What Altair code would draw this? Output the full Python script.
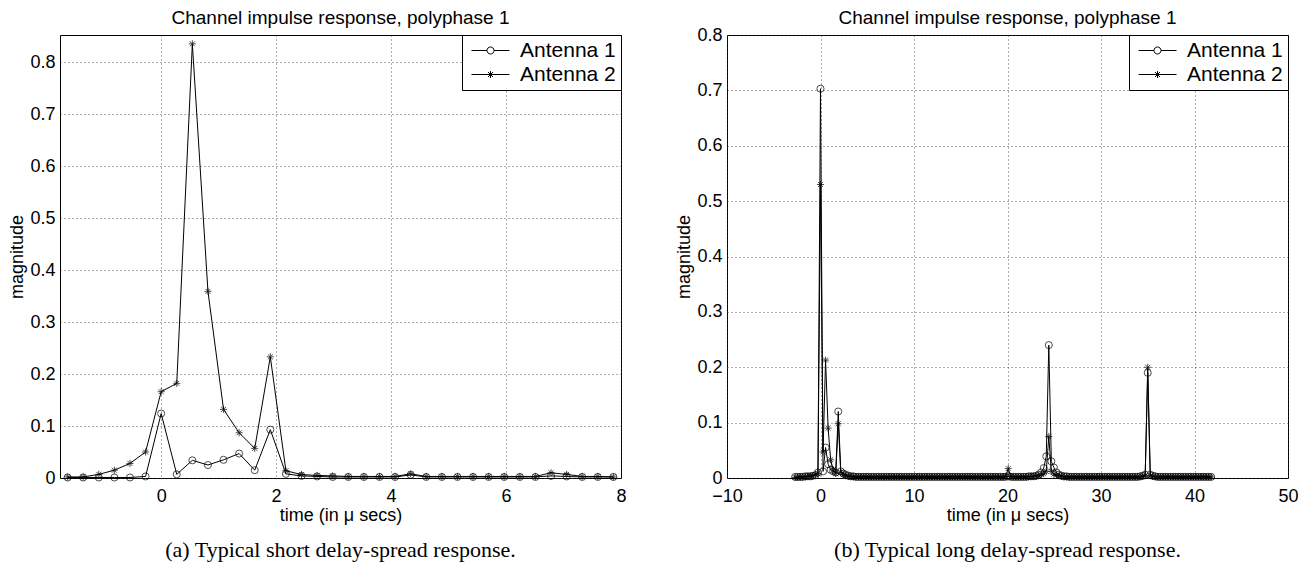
import altair as alt
import pandas as pd

SAMPLE_PERIOD_US = 0.2713
SERIES = ["Antenna 1", "Antenna 2"]

# ---- (a) short delay-spread: sample indices and magnitudes ----
left_idx = list(range(-6, 30))
left_ant1 = [0.001, 0.001, 0.001, 0.001, 0.001, 0.003,
             0.124, 0.007, 0.034, 0.025, 0.035, 0.047, 0.015, 0.093, 0.008,
             0.004, 0.003, 0.002, 0.002, 0.002, 0.002, 0.002, 0.006, 0.002, 0.002,
             0.002, 0.002, 0.002, 0.002, 0.002, 0.002, 0.004, 0.003, 0.002, 0.002, 0.002]
left_ant2 = [0.002, 0.002, 0.007, 0.015, 0.028, 0.050,
             0.166, 0.182, 0.835, 0.359, 0.132, 0.087, 0.057, 0.233, 0.014,
             0.0065, 0.005, 0.004, 0.003, 0.003, 0.003, 0.003, 0.008, 0.003, 0.003,
             0.003, 0.003, 0.003, 0.003, 0.003, 0.003, 0.010, 0.007, 0.003, 0.003, 0.002]

# ---- (b) long delay-spread ----
right_idx = list(range(-10, 155))
right_ant1 = [
    0.002, 0.002, 0.002, 0.002, 0.003, 0.003, 0.003, 0.004, 0.005, 0.010,
    0.703, 0.012, 0.055, 0.025, 0.015, 0.012, 0.010, 0.120, 0.012, 0.008,
    0.006, 0.004, 0.003, 0.003, 0.002, 0.002, 0.002, 0.002, 0.002, 0.002,
    0.002, 0.002, 0.002, 0.002, 0.002, 0.002, 0.002, 0.002, 0.002, 0.002,
    0.002, 0.002, 0.002, 0.002, 0.002, 0.002, 0.002, 0.002, 0.002, 0.002,
    0.002, 0.002, 0.002, 0.002, 0.002, 0.002, 0.002, 0.002, 0.002, 0.002,
    0.002, 0.002, 0.002, 0.002, 0.002, 0.002, 0.002, 0.002, 0.002, 0.002,
    0.002, 0.002, 0.002, 0.002, 0.002, 0.002, 0.002, 0.002, 0.002, 0.002,
    0.002, 0.002, 0.002, 0.002, 0.003, 0.002, 0.002, 0.002, 0.002, 0.002,
    0.002, 0.002, 0.003, 0.003, 0.003, 0.004, 0.006, 0.010, 0.018, 0.039,
    0.240, 0.030, 0.019, 0.010, 0.006, 0.004, 0.003, 0.003, 0.002, 0.002,
    0.002, 0.002, 0.002, 0.002, 0.002, 0.002, 0.002, 0.002, 0.002, 0.002,
    0.002, 0.002, 0.002, 0.002, 0.002, 0.002, 0.002, 0.002, 0.002, 0.002,
    0.002, 0.002, 0.002, 0.002, 0.002, 0.002, 0.003, 0.004, 0.006, 0.190,
    0.006, 0.004, 0.003, 0.002, 0.002, 0.002, 0.002, 0.002, 0.002, 0.002,
    0.002, 0.002, 0.002, 0.002, 0.002, 0.002, 0.002, 0.002, 0.002, 0.002,
    0.002, 0.002, 0.002, 0.002, 0.002,
]
right_ant2 = [
    0.001, 0.001, 0.002, 0.002, 0.002, 0.003, 0.003, 0.004, 0.006, 0.008,
    0.530, 0.047, 0.213, 0.090, 0.033, 0.015, 0.008, 0.098, 0.010, 0.006,
    0.004, 0.003, 0.003, 0.002, 0.002, 0.002, 0.002, 0.002, 0.002, 0.002,
    0.002, 0.002, 0.002, 0.002, 0.002, 0.002, 0.002, 0.002, 0.002, 0.002,
    0.002, 0.002, 0.002, 0.002, 0.002, 0.002, 0.002, 0.002, 0.002, 0.002,
    0.002, 0.002, 0.002, 0.002, 0.002, 0.002, 0.002, 0.002, 0.002, 0.002,
    0.002, 0.002, 0.002, 0.002, 0.002, 0.002, 0.002, 0.002, 0.002, 0.002,
    0.002, 0.002, 0.002, 0.002, 0.002, 0.002, 0.002, 0.002, 0.002, 0.002,
    0.002, 0.002, 0.002, 0.003, 0.017, 0.003, 0.002, 0.002, 0.002, 0.002,
    0.002, 0.002, 0.002, 0.003, 0.003, 0.003, 0.004, 0.006, 0.008, 0.012,
    0.075, 0.012, 0.007, 0.005, 0.004, 0.003, 0.002, 0.002, 0.002, 0.002,
    0.002, 0.002, 0.002, 0.002, 0.002, 0.002, 0.002, 0.002, 0.002, 0.002,
    0.002, 0.002, 0.002, 0.002, 0.002, 0.002, 0.002, 0.002, 0.002, 0.002,
    0.002, 0.002, 0.002, 0.002, 0.002, 0.002, 0.002, 0.003, 0.004, 0.200,
    0.004, 0.003, 0.002, 0.002, 0.002, 0.002, 0.002, 0.002, 0.002, 0.002,
    0.002, 0.002, 0.002, 0.002, 0.002, 0.002, 0.002, 0.002, 0.002, 0.002,
    0.002, 0.002, 0.002, 0.002, 0.002,
]

TITLE = "Channel impulse response, polyphase 1"
X_TITLE = "time (in μ secs)"
Y_TITLE = "magnitude"
CAPTION_A = "(a) Typical short delay-spread response."
CAPTION_B = "(b) Typical long delay-spread response."

PW, PH = 561, 443

STAR = "M-1,0L1,0M0,-1L0,1M-0.7,-0.7L0.7,0.7M-0.7,0.7L0.7,-0.7"
CIRCLE_LINE = ("M-2,0L-0.37,0M0.37,0L2,0M-0.37,0A0.37,0.37,0,1,1,0.37,0"
               "A0.37,0.37,0,1,1,-0.37,0Z")
STAR_LINE = ("M-2,0L2,0M0,-0.37L0,0.37M-0.26,-0.26L0.26,0.26"
             "M-0.26,0.26L0.26,-0.26")


def panel(idx, a1, a2, x_domain, x_ticks, y_domain, y_ticks, caption, title_offset):
    t = [round(k * SAMPLE_PERIOD_US, 4) for k in idx]
    df = pd.DataFrame({
        "t": t + t,
        "mag": a1 + a2,
        "series": [SERIES[0]] * len(t) + [SERIES[1]] * len(t),
    })
    x = alt.X("t:Q", scale=alt.Scale(domain=x_domain, nice=False, zero=False),
              axis=alt.Axis(values=x_ticks, format="d", title=X_TITLE,
                            labelFlush=False))
    y = alt.Y("mag:Q", scale=alt.Scale(domain=y_domain, nice=False, zero=False),
              axis=alt.Axis(values=y_ticks, format=".1~f", title=Y_TITLE))
    base = alt.Chart(df)
    lines = base.mark_line(color="black", strokeWidth=1).encode(
        x=x, y=y, detail="series:N")
    pts = base.mark_point(filled=False, color="black", strokeWidth=1, size=50).encode(
        x=x, y=y,
        shape=alt.Shape("series:N",
                        scale=alt.Scale(domain=SERIES, range=["circle", STAR]),
                        legend=None))
    leg_df = pd.DataFrame({"t": [t[0], t[0]], "mag": [a1[0], a2[0]],
                           "legend_series": SERIES})
    leg = alt.Chart(leg_df).mark_point(filled=False, color="black", opacity=0,
                                       strokeWidth=1, size=400).encode(
        x=x, y=y,
        shape=alt.Shape("legend_series:N",
                        scale=alt.Scale(domain=SERIES, range=[CIRCLE_LINE, STAR_LINE]),
                        legend=alt.Legend(title=None, orient="top-right", offset=0,
                                          symbolSize=361, symbolOpacity=1,
                                          symbolStrokeColor="black",
                                          symbolStrokeWidth=1,
                                          symbolFillColor="white",
                                          symbolOffset=13,
                                          strokeColor="black", fillColor="white",
                                          padding=5, rowPadding=2, labelOffset=19,
                                          labelFont="Liberation Sans",
                                          labelFontSize=21, labelColor="black",
                                          cornerRadius=0)))
    cap = alt.Chart(pd.DataFrame({"caption": [caption]})).mark_text(
        font="Liberation Serif", fontSize=22, align="center", baseline="middle",
        color="black").encode(text="caption:N", x=alt.value(PW / 2),
                              y=alt.value(PH + 72))
    return alt.layer(lines, pts, leg, cap).resolve_scale(
        shape="independent").properties(
        width=PW, height=PH,
        title=alt.Title(TITLE, fontSize=19, font="Liberation Sans",
                        fontWeight="normal", offset=title_offset, anchor="middle",
                        frame="group", color="black"))


left = panel(left_idx, left_ant1, left_ant2, [-1.76, 8], [0, 2, 4, 6, 8],
             [0, 0.852], [0, 0.1, 0.2, 0.3, 0.4, 0.5, 0.6, 0.7, 0.8], CAPTION_A, 7)
right = panel(right_idx, right_ant1, right_ant2, [-10, 50],
              [-10, 0, 10, 20, 30, 40, 50], [0, 0.8],
              [0, 0.1, 0.2, 0.3, 0.4, 0.5, 0.6, 0.7, 0.8], CAPTION_B, -2)

chart = alt.hconcat(left, right, spacing=48).resolve_scale(
    x="independent", y="independent", shape="independent").properties(
    padding={"left": 0, "top": 0, "right": 5, "bottom": 5}
).configure_view(stroke="black", strokeWidth=1).configure_axis(
    labelFont="Liberation Sans", labelFontSize=18, labelColor="black",
    titleFont="Liberation Sans", titleFontSize=18, titleFontWeight="normal",
    titleColor="black", ticks=False, domain=False, grid=True,
    gridDash=[1, 3], gridColor="#333", gridOpacity=0.8, labelPadding=5
).configure_axisY(titlePadding=3).configure_axisX(labelPadding=9, titlePadding=1)

chart.save("out.html", embed_options={"renderer": "svg", "actions": False})
